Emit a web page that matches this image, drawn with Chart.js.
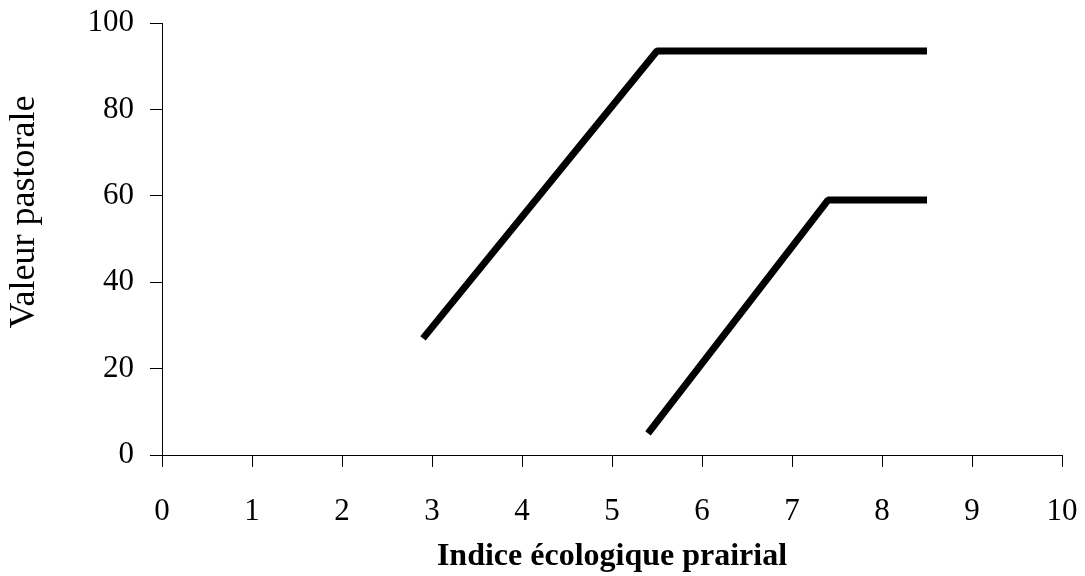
<!DOCTYPE html>
<html>
<head>
<meta charset="utf-8">
<script src="https://cdn.jsdelivr.net/npm/chart.js@4/dist/chart.umd.min.js"></script>
<style>
  html, body { margin: 0; padding: 0; background: #fff; }
  #wrap { width: 1085px; height: 576px; }
</style>
</head>
<body>
<div id="wrap"><canvas id="chart" width="1085" height="576"></canvas></div>
<script>
// Upper line (x = indice, y = valeur)
const upperX = [2.9, 5.5, 8.5];
const upperY = [27, 93.5, 93.5];
// Lower line
const lowerX = [5.4, 7.4, 8.5];
const lowerY = [5, 59, 59];

const xTitle = 'Indice écologique prairial';
// leading spaces nudge the title up a bit, like the original
const yTitle = '      Valeur pastorale';

const serif = '"Liberation Serif", "Times New Roman", serif';

function toPoints(xs, ys) {
  return xs.map((x, i) => ({ x: x, y: ys[i] }));
}

const lineStyle = {
  borderColor: '#000',
  borderWidth: 7,
  borderCapStyle: 'butt',
  borderJoinStyle: 'bevel',
  pointRadius: 0,
  fill: false,
  tension: 0
};

const ctx = document.getElementById('chart').getContext('2d');
new Chart(ctx, {
  type: 'line',
  data: {
    datasets: [
      Object.assign({ label: 'upper', data: toPoints(upperX, upperY) }, lineStyle),
      Object.assign({ label: 'lower', data: toPoints(lowerX, lowerY) }, lineStyle)
    ]
  },
  options: {
    responsive: false,
    animation: false,
    layout: { padding: { top: 23, right: 23, left: 0, bottom: 0 } },
    plugins: {
      legend: { display: false },
      tooltip: { enabled: false }
    },
    scales: {
      x: {
        type: 'linear',
        min: 0,
        max: 10,
        ticks: {
          stepSize: 1,
          color: '#000',
          padding: 26,
          font: { family: serif, size: 31 }
        },
        grid: { drawOnChartArea: false, tickLength: 12, color: '#000' },
        border: { color: '#000', width: 1 },
        title: {
          display: true,
          text: xTitle,
          color: '#000',
          padding: { top: 0, bottom: 0 },
          font: { family: serif, size: 32, weight: 'bold' }
        },
        afterFit: scale => {
          scale.height = 121;
          scale.paddingLeft = 0;
          scale.paddingRight = 0;
        }
      },
      y: {
        min: 0,
        max: 100,
        ticks: {
          stepSize: 20,
          color: '#000',
          padding: 16,
          font: { family: serif, size: 31 }
        },
        grid: { drawOnChartArea: false, tickLength: 12, color: '#000' },
        border: { color: '#000', width: 1 },
        title: {
          display: true,
          text: yTitle,
          color: '#000',
          padding: { top: 3, bottom: 0 },
          font: { family: serif, size: 36 }
        },
        afterFit: scale => {
          scale.width = 162;
          scale.paddingTop = 0;
          scale.paddingBottom = 0;
        }
      }
    }
  }
});
</script>
</body>
</html>
